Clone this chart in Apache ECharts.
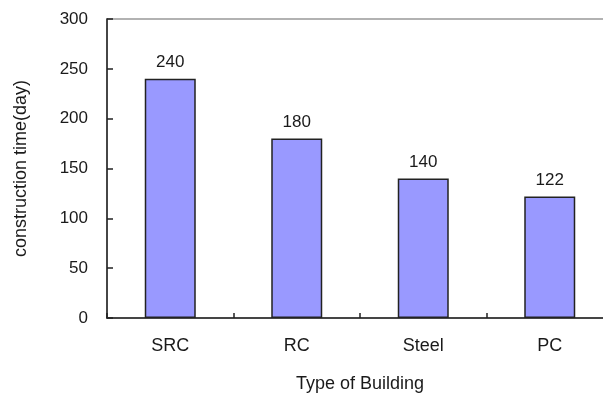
<!DOCTYPE html>
<html>
<head>
<meta charset="utf-8">
<style>html,body{margin:0;padding:0;background:#fff}#c{width:603px;height:394px}</style>
<script src="https://cdn.jsdelivr.net/npm/echarts@6/dist/echarts.min.js"></script>
</head>
<body>
<div id="c"></div>
<script>
var categories = ['SRC', 'RC', 'Steel', 'PC'];
var values = [240, 180, 140, 122];
var yTicks = [0, 50, 100, 150, 200, 250, 300];

var chart = echarts.init(document.getElementById('c'), null, {renderer: 'canvas'});
var FONT = 'Liberation Sans, Arial, sans-serif';
var TXT = '#1a1a1a';
chart.setOption({
  animation: false,
  backgroundColor: '#fff',
  grid: {left: 107, top: 19, bottom: 76, width: 506, containLabel: false, outerBoundsMode: 'none', show: true, borderColor: '#999', borderWidth: 1.5, backgroundColor: 'transparent'},
  xAxis: {
    type: 'category',
    data: categories,
    name: 'Type of Building',
    nameLocation: 'middle',
    nameGap: 57,
    nameTextStyle: {fontFamily: FONT, fontSize: 18, color: TXT},
    axisLine: {show: true, lineStyle: {color: '#222', width: 1.5}},
    axisTick: {show: true, inside: true, alignWithLabel: false, interval: 0, length: 5, lineStyle: {color: '#222', width: 1.5}},
    axisLabel: {margin: 19, fontFamily: FONT, fontSize: 18, color: TXT}
  },
  yAxis: {
    type: 'value',
    min: yTicks[0],
    max: yTicks[yTicks.length - 1],
    interval: 50,
    name: 'construction time(day)',
    nameLocation: 'middle',
    nameGap: 77,
    nameTextStyle: {fontFamily: FONT, fontSize: 18, color: TXT},
    axisLine: {show: true, lineStyle: {color: '#222', width: 1.5}},
    axisTick: {show: true, inside: true, length: 6, lineStyle: {color: '#222', width: 1.5}},
    axisLabel: {margin: 19, fontFamily: FONT, fontSize: 17, color: TXT},
    splitLine: {show: false}
  },
  series: [{
    type: 'bar',
    data: values,
    barWidth: 51,
    itemStyle: {color: '#9999ff', borderColor: '#222', borderWidth: 1.5},
    label: {show: true, position: 'top', distance: 8, fontFamily: FONT, fontSize: 17, color: TXT}
  }]
});
</script>
</body>
</html>
